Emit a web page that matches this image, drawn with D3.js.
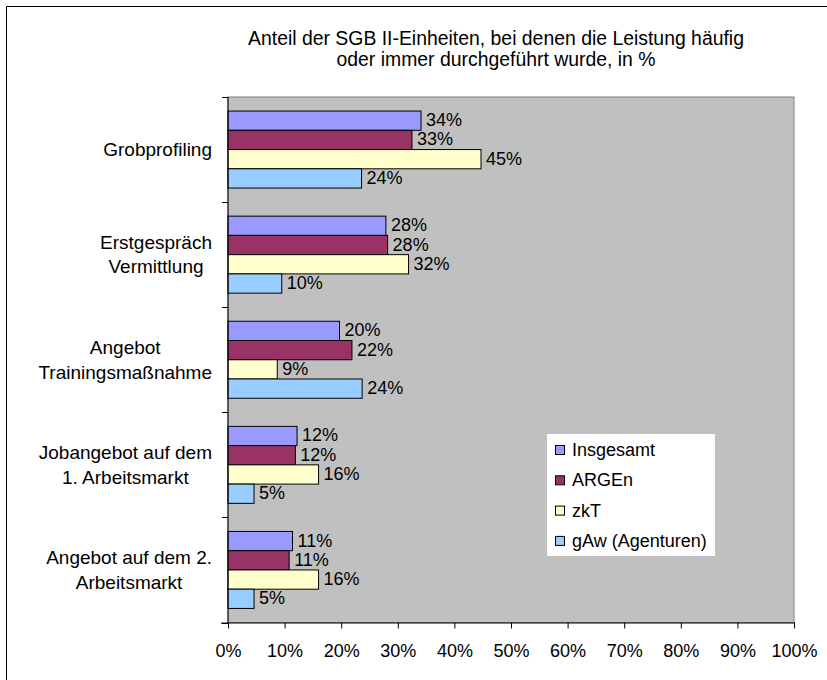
<!DOCTYPE html>
<html>
<head>
<meta charset="utf-8">
<script src="https://cdn.jsdelivr.net/npm/d3@7"></script>
<style>
  html, body { margin: 0; background: #fff; overflow: hidden; }
  svg { display: block; }
  text { font-family: "Liberation Sans", Arial, sans-serif; fill: #000; }
</style>
</head>
<body>
<div id="chart"></div>
<script>
// data (percent)
var categories = [
    ["Grobprofiling"],
    ["Erstgespräch", "Vermittlung"],
    ["Angebot", "Trainingsmaßnahme"],
    ["Jobangebot auf dem", "1. Arbeitsmarkt"],
    ["Angebot auf dem 2.", "Arbeitsmarkt"]
];
var seriesNames = ["Insgesamt", "ARGEn", "zkT", "gAw (Agenturen)"];
var seriesColors = ["#9999FF", "#993366", "#FFFFCC", "#99CCFF"];
var insgesamt = [34.1, 27.9, 19.7, 12.2, 11.4];
var argen = [32.5, 28.2, 21.9, 11.9, 10.8];
var zkt = [44.7, 31.9, 8.7, 16.0, 16.0];
var gaw = [23.6, 9.5, 23.7, 4.6, 4.6];
var xTicks = [0, 10, 20, 30, 40, 50, 60, 70, 80, 90, 100];
var titleLines = [
    "Anteil der SGB II-Einheiten, bei denen die Leistung häufig",
    "oder immer durchgeführt wurde, in %"
];

var allSeries = [insgesamt, argen, zkt, gaw];

var width = 827, height = 680;
var plot = { left: 228, right: 794, top: 97, bottom: 622.5 };

var svg = d3.select("#chart").append("svg")
    .attr("width", width)
    .attr("height", height);

// outer chart frame: only the top and left edges fall inside the picture
svg.append("path")
    .attr("d", "M6.5,700V6.5H840")
    .attr("fill", "none")
    .attr("stroke", "#000");

// title
svg.append("g").selectAll("text")
    .data(titleLines)
    .enter().append("text")
    .attr("x", 496)
    .attr("y", (d, i) => 44.5 + i * 21.5)
    .attr("text-anchor", "middle")
    .style("font-size", "19.4px")
    .text(d => d);

var x = d3.scaleLinear().domain([0, 100]).range([plot.left, plot.right]);
var y0 = d3.scaleBand()
    .domain(d3.range(categories.length))
    .range([plot.top, plot.bottom]);
var y1 = d3.scaleBand()
    .domain(d3.range(seriesNames.length))
    .range([0, y0.bandwidth()])
    .paddingInner(0)
    .paddingOuter(0.73);

// plot area
svg.append("rect")
    .attr("x", plot.left).attr("y", plot.top)
    .attr("width", plot.right - plot.left)
    .attr("height", plot.bottom - plot.top)
    .attr("fill", "#C0C0C0")
    .attr("stroke", "#808080");

// bars
var groups = svg.selectAll(".cat")
    .data(categories)
    .enter().append("g")
    .attr("class", "cat")
    .attr("transform", (d, i) => `translate(0, ${y0(i)})`);

groups.each(function (cat, ci) {
    var g = d3.select(this);
    var rows = allSeries.map((s, si) => ({ si: si, v: s[ci] }));

    g.selectAll("rect")
        .data(rows)
        .enter().append("rect")
        .attr("x", x(0))
        .attr("y", d => y1(d.si))
        .attr("width", d => x(d.v) - x(0))
        .attr("height", y1.bandwidth())
        .attr("fill", d => seriesColors[d.si])
        .attr("stroke", "#000")
        .attr("stroke-width", 1);

    g.selectAll("text.val")
        .data(rows)
        .enter().append("text")
        .attr("class", "val")
        .attr("x", d => x(d.v) + 5)
        .attr("y", d => y1(d.si) + y1.bandwidth() / 2 - 0.5)
        .attr("dominant-baseline", "central")
        .style("font-size", "18px")
        .text(d => Math.round(d.v) + "%");
});

// category axis
var yAxis = svg.append("g");
yAxis.append("line")
    .attr("x1", plot.left).attr("x2", plot.left)
    .attr("y1", plot.top).attr("y2", plot.bottom)
    .attr("stroke", "#000");
yAxis.selectAll("line.tick")
    .data(d3.range(categories.length + 1))
    .enter().append("line")
    .attr("class", "tick")
    .attr("x1", plot.left - 6).attr("x2", plot.left)
    .attr("y1", i => Math.round(plot.top + i * y0.step()) + 0.5)
    .attr("y2", i => Math.round(plot.top + i * y0.step()) + 0.5)
    .attr("stroke", "#000");

// category labels: wrapped lines centred on each other, block right-aligned
var labelRight = 212, lineH = 24.5;
categories.forEach(function (lines, ci) {
    var g = svg.append("g");
    var cy = y0(ci) + y0.bandwidth() / 2;
    var texts = g.selectAll("text")
        .data(lines)
        .enter().append("text")
        .attr("y", (d, i) => cy + (i - (lines.length - 1) / 2) * lineH)
        .attr("dominant-baseline", "central")
        .attr("text-anchor", "middle")
        .style("font-size", "19px")
        .text(d => d);
    var maxW = d3.max(texts.nodes(), n => n.getComputedTextLength());
    texts.attr("x", labelRight - maxW / 2);
});

// value axis
var xAxis = d3.axisBottom(x)
    .tickValues(xTicks)
    .tickSize(6)
    .tickPadding(16)
    .tickFormat(d => d + "%");
var xg = svg.append("g")
    .attr("transform", `translate(0, ${plot.bottom})`)
    .call(xAxis);
xg.select(".domain").attr("d", `M${plot.left - 7},0.5H${plot.right}`).attr("stroke", "#000");
xg.selectAll(".tick line").attr("stroke", "#000");
xg.selectAll(".tick text")
    .style("font-size", "18px")
    .style("font-family", "'Liberation Sans', Arial, sans-serif")
    .attr("fill", "#000");

// legend
var legend = svg.append("g").attr("transform", "translate(547, 434)");
legend.append("rect")
    .attr("width", 168).attr("height", 122)
    .attr("fill", "#fff");
var items = legend.selectAll(".legend")
    .data(seriesNames)
    .enter().append("g")
    .attr("class", "legend")
    .attr("transform", (d, i) => `translate(8, ${16 + i * 30.3})`);
items.append("rect")
    .attr("x", 0.5).attr("y", -4.5)
    .attr("width", 9).attr("height", 9)
    .attr("fill", (d, i) => seriesColors[i])
    .attr("stroke", "#000");
items.append("text")
    .attr("x", 17)
    .attr("y", 0)
    .attr("dominant-baseline", "central")
    .style("font-size", "18px")
    .text(d => d);
</script>
</body>
</html>
